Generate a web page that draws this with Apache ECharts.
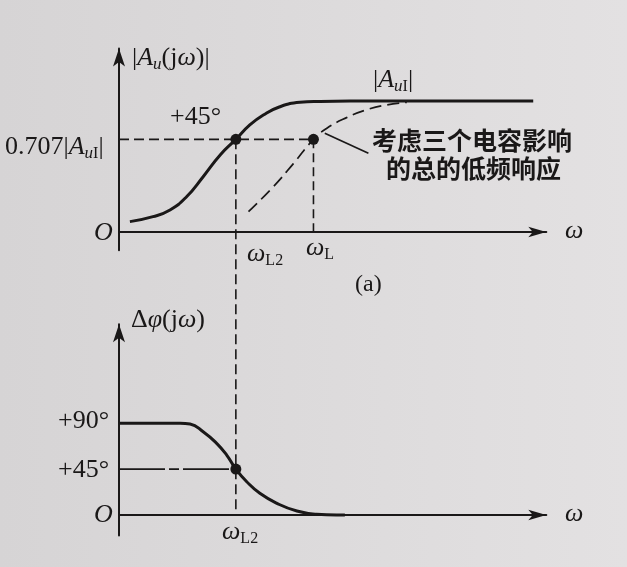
<!DOCTYPE html>
<html><head><meta charset="utf-8">
<script src="https://cdn.jsdelivr.net/npm/echarts@6/dist/echarts.min.js"></script>
<style>html,body{margin:0;padding:0;background:#d8d5d5;}#c{width:627px;height:567px;}</style>
</head><body><div id="c"></div>
<script>
// ---- data (x = normalised log-frequency units, |Au|/|AuI|, phase in degrees) ----
const wL2 = 2.68;          // lower corner of C2 alone
const wL = 4.46;           // overall lower cut-off
const halfPower = 0.707;   // 0.707|AuI|
const phaseTop = 90;       // +90°
const phaseMid = 45;       // +45°

const magX = [0.25, 0.78, 1.17, 1.55, 1.93, 2.32, 2.68, 3.00, 3.31, 3.69, 4.15, 4.61, 5.3, 9.5];
const magY = [0.079, 0.117, 0.168, 0.269, 0.422, 0.588, 0.707, 0.817, 0.893, 0.956, 0.99, 0.997, 1, 1];

const totX = [2.97, 3.54, 4.00, 4.46, 4.76, 5.22, 5.68, 6.14, 6.60];
const totY = [0.155, 0.346, 0.522, 0.707, 0.79, 0.873, 0.933, 0.97, 0.99];

const phX = [0, 1.40, 1.63, 1.93, 2.24, 2.47, 2.68, 2.93, 3.23, 3.62, 4.08, 4.53, 4.99, 5.18];
const phY = [90, 90, 89.2, 81.7, 70.3, 58.8, 45, 32.6, 21.3, 11.5, 3.9, 0.7, 0, 0];

const leaderX = [4.72, 5.72];
const leaderY = [0.753, 0.601];

// ---- layout ----
const X_MAX = 9.8;
const TOP = {min: -0.14, max: 1.4, top: 48.6, height: 201.7};
const BOT = {min: -20, max: 187, top: 324.3, height: 211.1};
const L = 119, W = 427.3;
const INK = '#1a1818';
const SERIF = '"Liberation Serif", "DejaVu Serif", serif';
const CJK = '"Noto Sans CJK SC", sans-serif';

const zip = (a, b) => a.map((v, i) => [v, b[i]]);
const yPix = (g, v) => g.top + (g.max - v) / (g.max - g.min) * g.height;
const linkTop = yPix(TOP, halfPower);
const linkBot = yPix(BOT, 0);

function axisX(gi, show) {
  return {type: 'value', gridIndex: gi, min: 0, max: X_MAX, show: show,
    axisLine: {show: true, onZero: true, symbol: ['none', 'arrow'], symbolSize: [8, 18],
      lineStyle: {color: INK, width: 2}},
    axisTick: {show: false}, axisLabel: {show: false}, splitLine: {show: false}};
}
function axisY(gi, g, show) {
  return {type: 'value', gridIndex: gi, min: g.min, max: g.max, show: show,
    axisLine: {show: true, onZero: false, symbol: ['none', 'arrow'], symbolSize: [9, 18],
      lineStyle: {color: INK, width: 2}},
    axisTick: {show: false}, axisLabel: {show: false}, splitLine: {show: false}};
}

const rich = {
  i: {fontFamily: SERIF, fontSize: 26, fontStyle: 'italic', fill: INK},
  n: {fontFamily: SERIF, fontSize: 26, fill: INK},
  s: {fontFamily: SERIF, fontSize: 17, fontStyle: 'italic', fill: INK, padding: [14, 0, 0, 0]},
  su: {fontFamily: SERIF, fontSize: 16, fill: INK, padding: [14, 0, 0, 0]}
};
function txt(x, y, text, extra) {
  return Object.assign({type: 'text', x: x, y: y, z: 100,
    style: Object.assign({text: text, rich: rich, fontFamily: SERIF, fontSize: 26, fill: INK,
      align: 'left', verticalAlign: 'middle'}, extra || {})});
}

const option = {
  animation: false,
  backgroundColor: {type: 'linear', x: 0, y: 0, x2: 1, y2: 0,
    colorStops: [{offset: 0, color: '#d6d4d5'}, {offset: 1, color: '#e3e1e2'}]},
  grid: [
    {left: L, width: W, top: TOP.top, height: TOP.height},
    {left: L, width: W, top: BOT.top, height: BOT.height},
    {left: L, width: W, top: linkTop, height: linkBot - linkTop}
  ],
  xAxis: [axisX(0, true), axisX(1, true), axisX(2, false)],
  yAxis: [axisY(0, TOP, true), axisY(1, BOT, true), {type: 'value', gridIndex: 2, min: 0, max: 1, show: false}],
  series: [
    // guides top
    {type: 'line', xAxisIndex: 0, yAxisIndex: 0, data: [[0, halfPower], [wL, halfPower]], symbol: 'none',
      lineStyle: {color: INK, width: 1.6, type: [10, 5]}, z: 2},
    {type: 'line', xAxisIndex: 0, yAxisIndex: 0, data: [[wL, halfPower], [wL, 0]], symbol: 'none',
      lineStyle: {color: INK, width: 1.6, type: [9, 5]}, z: 2},
    {type: 'line', xAxisIndex: 2, yAxisIndex: 2, data: [[wL2, 1], [wL2, 0]], symbol: 'none',
      lineStyle: {color: INK, width: 1.6, type: [10, 5]}, z: 2},
    // magnitude of C2 alone
    {type: 'line', xAxisIndex: 0, yAxisIndex: 0, data: zip(magX, magY), symbol: 'none', smooth: 0.5,
      lineStyle: {color: INK, width: 3}, z: 5},
    // total low-frequency response
    {type: 'line', xAxisIndex: 0, yAxisIndex: 0, data: zip(totX, totY), symbol: 'none', smooth: 0.5,
      lineStyle: {color: INK, width: 1.7, type: [12, 6]}, z: 4},
    // leader
    {type: 'line', xAxisIndex: 0, yAxisIndex: 0, data: zip(leaderX, leaderY), symbol: 'none',
      lineStyle: {color: INK, width: 1.7}, z: 4},
    // dots top
    {type: 'scatter', xAxisIndex: 0, yAxisIndex: 0, data: [[wL2, halfPower], [wL, halfPower]],
      symbolSize: 11, itemStyle: {color: INK, opacity: 1}, z: 10},
    // phase
    {type: 'line', xAxisIndex: 1, yAxisIndex: 1, data: [[0, phaseMid], [wL2, phaseMid]], symbol: 'none',
      lineStyle: {color: INK, width: 1.6, type: [46, 4, 10, 4]}, z: 2},
    {type: 'line', xAxisIndex: 1, yAxisIndex: 1, data: zip(phX, phY), symbol: 'none', smooth: 0.5,
      lineStyle: {color: INK, width: 3}, z: 5},
    {type: 'scatter', xAxisIndex: 1, yAxisIndex: 1, data: [[wL2, phaseMid]],
      symbolSize: 11, itemStyle: {color: INK, opacity: 1}, z: 10}
  ],
  graphic: [
    txt(132, 58, '|{i|A}{s|u}{n|(j}{i|ω}{n|)}|'),
    txt(170, 117, '+45°'),
    txt(5, 147, '0.707|{i|A}{s|u}{su|I}|'),
    txt(94, 233, 'O', {fontStyle: 'italic'}),
    txt(373, 80, '|{i|A}{s|u}{su|I}|'),
    txt(372, 140, '考虑三个电容影响', {fontFamily: CJK, fontSize: 25, fontWeight: 'bold'}),
    txt(386, 168, '的总的低频响应', {fontFamily: CJK, fontSize: 25, fontWeight: 'bold'}),
    txt(247, 254, '{i|ω}{su|L2}'),
    txt(306, 248, '{i|ω}{su|L}'),
    txt(355, 285, '(a)', {fontSize: 24}),
    txt(565, 231, 'ω', {fontStyle: 'italic'}),
    txt(131, 320, 'Δ{i|φ}{n|(j}{i|ω}{n|)}'),
    txt(58, 421, '+90°'),
    txt(58, 470, '+45°'),
    txt(94, 515, 'O', {fontStyle: 'italic'}),
    txt(565, 514, 'ω', {fontStyle: 'italic'}),
    txt(222, 532, '{i|ω}{su|L2}')
  ]
};
echarts.init(document.getElementById('c'), null, {renderer: 'canvas'}).setOption(option);
</script></body></html>
